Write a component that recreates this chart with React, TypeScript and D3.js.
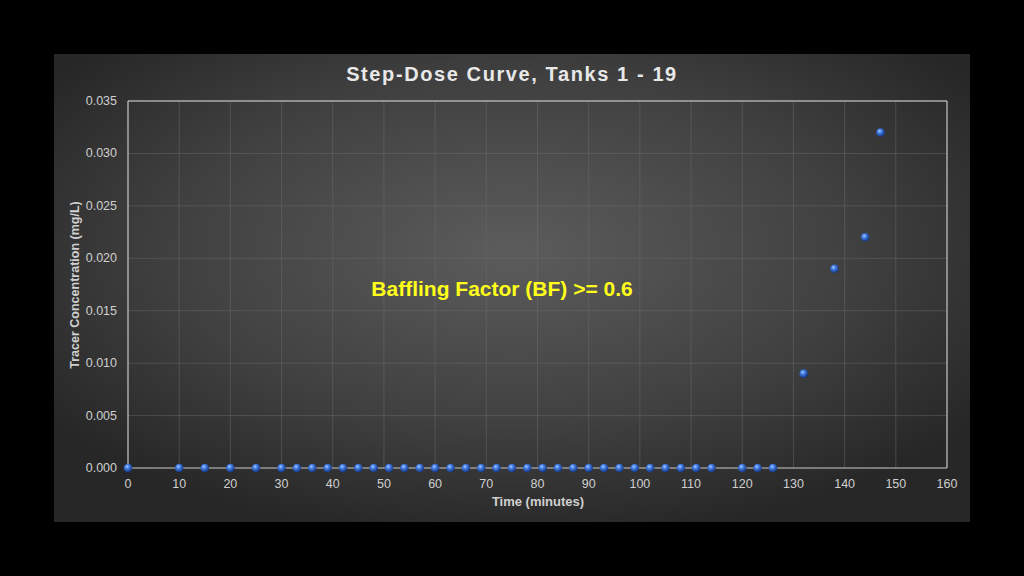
import React from "react";
import * as d3 from "d3";

const timeMinutes = [0, 10, 15, 20, 25, 30, 33, 36, 39, 42, 45, 48, 51, 54, 57, 60, 63, 66, 69, 72, 75, 78, 81, 84, 87, 90, 93, 96, 99, 102, 105, 108, 111, 114, 120, 123, 126, 132, 138, 144, 147];
const concentration = [0, 0, 0, 0, 0, 0, 0, 0, 0, 0, 0, 0, 0, 0, 0, 0, 0, 0, 0, 0, 0, 0, 0, 0, 0, 0, 0, 0, 0, 0, 0, 0, 0, 0, 0, 0, 0, 0.009, 0.019, 0.022, 0.032];
const xTicks = [0, 10, 20, 30, 40, 50, 60, 70, 80, 90, 100, 110, 120, 130, 140, 150, 160];
const yTicks = [0, 0.005, 0.01, 0.015, 0.02, 0.025, 0.03, 0.035];

const W = 1024, H = 576;
const left = 128, right = 947, top = 101, bottom = 468;

export default function App() {
  const x = d3.scaleLinear().domain([0, 160]).range([left, right]);
  const y = d3.scaleLinear().domain([0, 0.035]).range([bottom, top]);
  const font = "'Liberation Sans', Arial, Helvetica, sans-serif";
  return (
    <svg width={W} height={H} style={{ position: "absolute", left: 0, top: 0, display: "block" }}>
      <defs>
        <radialGradient id="bg" cx="0.5" cy="0.42" r="0.62">
          <stop offset="0" stopColor="#5c5c5c" />
          <stop offset="0.6" stopColor="#404040" />
          <stop offset="1" stopColor="#272727" />
        </radialGradient>
        <radialGradient id="ball" cx="0.4" cy="0.35" r="0.65">
          <stop offset="0" stopColor="#b0ceff" />
          <stop offset="0.35" stopColor="#4580e6" />
          <stop offset="1" stopColor="#14347e" />
        </radialGradient>
      </defs>
      <rect x={0} y={0} width={W} height={H} fill="#000" />
      <rect x={54} y={54} width={916} height={468} fill="url(#bg)" />
      {xTicks.map((t) => (
        <line key={"gx" + t} x1={x(t)} x2={x(t)} y1={top} y2={bottom} stroke="#6e6e6e" strokeOpacity={0.45} strokeWidth={1} />
      ))}
      {yTicks.map((t) => (
        <line key={"gy" + t} x1={left} x2={right} y1={y(t)} y2={y(t)} stroke="#6e6e6e" strokeOpacity={0.45} strokeWidth={1} />
      ))}
      <line x1={left} x2={right} y1={top} y2={top} stroke="#d8d8d8" strokeWidth={1} />
      <line x1={right} x2={right} y1={top} y2={bottom} stroke="#d8d8d8" strokeWidth={1} />
      <line x1={left} x2={left} y1={top} y2={bottom} stroke="#d8d8d8" strokeWidth={1} />
      <line x1={left} x2={right} y1={bottom} y2={bottom} stroke="#bdbdbd" strokeWidth={1} />
      {xTicks.map((t) => (
        <text key={"tx" + t} x={x(t)} y={488} textAnchor="middle" fill="#cfcfcf" fontSize={12.5} fontFamily={font}>
          {t}
        </text>
      ))}
      {yTicks.map((t) => (
        <text key={"ty" + t} x={117} y={y(t) + 4} textAnchor="end" fill="#cfcfcf" fontSize={12.5} fontFamily={font}>
          {d3.format(".3f")(t)}
        </text>
      ))}
      <text x={512} y={81} textAnchor="middle" fill="#e8e8e8" fontSize={20} fontWeight="bold" fontFamily={font} letterSpacing={1.6}>
        Step-Dose Curve, Tanks 1 - 19
      </text>
      <text x={538} y={506} textAnchor="middle" fill="#d0d0d0" fontSize={13} fontWeight="bold" fontFamily={font}>
        Time (minutes)
      </text>
      <text transform={`translate(79,285) rotate(-90)`} textAnchor="middle" fill="#d0d0d0" fontSize={12.5} fontWeight="bold" fontFamily={font}>
        Tracer Concentration (mg/L)
      </text>
      <text x={502} y={296} textAnchor="middle" fill="#ffff1a" fontSize={21} fontWeight="bold" fontFamily={font}>
        Baffling Factor (BF) &gt;= 0.6
      </text>
      {timeMinutes.map((t, i) => (
        <circle key={"p" + i} cx={x(t)} cy={y(concentration[i])} r={4.3} fill="url(#ball)" />
      ))}
    </svg>
  );
}
